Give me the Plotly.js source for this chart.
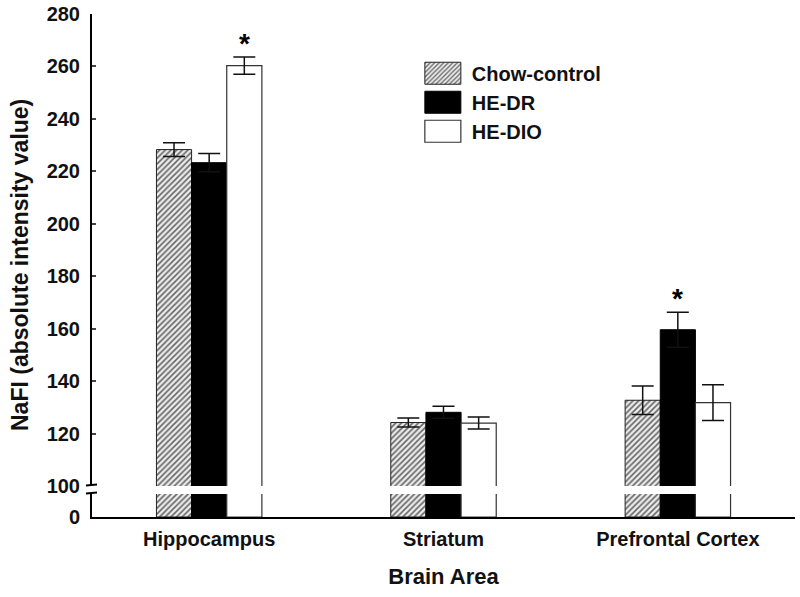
<!DOCTYPE html>
<html>
<head>
<meta charset="utf-8">
<script src="https://cdn.plot.ly/plotly-3.0.1.min.js"></script>
<style>
  html, body { margin: 0; padding: 0; background: #fff; }
  #chart { width: 800px; height: 597px; }
</style>
</head>
<body>
<div id="chart"></div>
<script>
// ---- data ----
const areas = ['Hippocampus', 'Striatum', 'Prefrontal Cortex'];
const seriesNames = ['Chow-control', 'HE-DR', 'HE-DIO'];
const chowVals = [228.3, 124.2, 132.7];
const chowErr  = [2.6, 1.7, 5.4];
const drVals   = [223.3, 128.1, 159.6];
const drErr    = [3.5, 2.3, 6.7];
const dioVals  = [260.3, 124.0, 131.8];
const dioErr   = [3.3, 2.3, 6.8];
const upperTicks = [100, 120, 140, 160, 180, 200, 220, 240, 260, 280];
const lowerTicks = [0];
// significance markers: [area index, series index]
const sigMarks = [[0, 2], [2, 1]];

const FONT = 'Liberation Sans, Arial, sans-serif';
const values = [chowVals, drVals, dioVals];
const errs = [chowErr, drErr, dioErr];
const styles = [
  {color: '#ececec', line: {color: '#222', width: 1},
   pattern: {shape: '/', fgcolor: '#666', bgcolor: '#ececec', size: 4, solidity: 0.4}},
  {color: '#000000', line: {color: '#000', width: 1}},
  {color: '#ffffff', line: {color: '#333', width: 1.2}}
];

const traces = [];
seriesNames.forEach((name, i) => {
  // upper (broken) panel
  traces.push({
    type: 'bar', name: name, x: areas, y: values[i],
    xaxis: 'x', yaxis: 'y2', legendgroup: name, showlegend: true,
    marker: styles[i],
    error_y: {type: 'data', array: errs[i], visible: true, color: '#111', thickness: 1.5, width: 11}
  });
  // lower panel (0 .. break)
  traces.push({
    type: 'bar', name: name, x: areas, y: values[i],
    xaxis: 'x', yaxis: 'y', legendgroup: name, showlegend: false,
    marker: styles[i], hoverinfo: 'skip'
  });
});

const offsets = [-35, 0, 35];
const annotations = sigMarks.map(([a, s]) => ({
  x: areas[a], y: values[s][a] + errs[s][a], xref: 'x', yref: 'y2',
  xshift: offsets[s], yshift: 14, text: '*', showarrow: false,
  font: {family: FONT, size: 28, color: '#000', weight: 'bold'}
}));
annotations.push({
  text: 'NaFI (absolute intensity value)', textangle: -90, showarrow: false,
  xref: 'paper', yref: 'paper', x: -0.1024, y: 0.501, xanchor: 'center', yanchor: 'middle',
  font: {family: FONT, size: 23, color: '#111', weight: 'bold'}
});

const H = 503; // plot height in px
const layout = {
  width: 800, height: 597,
  margin: {l: 92, r: 5, t: 14, b: 80},
  paper_bgcolor: '#fff', plot_bgcolor: '#fff',
  barmode: 'group', bargap: 0.55, bargroupgap: 0,
  showlegend: true,
  legend: {
    x: 0.4692, y: 0.921, xanchor: 'left', yanchor: 'top',
    bgcolor: 'rgba(0,0,0,0)', itemwidth: 40, tracegroupgap: 0,
    font: {family: FONT, size: 20, color: '#111', weight: 'bold'}
  },
  xaxis: {
    anchor: 'y', range: [-0.5, 2.5], showline: true, linecolor: '#000', linewidth: 2,
    ticks: '', showgrid: false, zeroline: false,
    tickfont: {family: FONT, size: 20, color: '#111', weight: 'bold'},
    ticklabelstandoff: 3,
    title: {text: 'Brain Area', standoff: 20, font: {family: FONT, size: 22, color: '#111', weight: 'bold'}}
  },
  yaxis: {
    domain: [0, 23 / H], range: [0, 10], tickvals: lowerTicks, ticktext: lowerTicks.map(String),
    showline: true, linecolor: '#000', linewidth: 2, ticks: 'inside', ticklen: 4, tickwidth: 2,
    showgrid: false, zeroline: false, ticklabelstandoff: 6,
    tickfont: {family: FONT, size: 20, color: '#111', weight: 'bold'}
  },
  yaxis2: {
    domain: [31 / H, 1], range: [100, 280], tickvals: upperTicks, anchor: 'x',
    showline: true, linecolor: '#000', linewidth: 2, ticks: 'inside', ticklen: 4, tickwidth: 2,
    showgrid: false, zeroline: false, ticklabelstandoff: 6,
    tickfont: {family: FONT, size: 20, color: '#111', weight: 'bold'}
  },
  shapes: [
    {type: 'line', xref: 'paper', yref: 'paper', x0: -6 / 703, x1: 5 / 703, y0: 31.5 / H, y1: 32.5 / H, line: {color: '#000', width: 2}},
    {type: 'line', xref: 'paper', yref: 'paper', x0: -6 / 703, x1: 5 / 703, y0: 23.5 / H, y1: 24.5 / H, line: {color: '#000', width: 2}}
  ],
  annotations: annotations
};

Plotly.newPlot('chart', traces, layout, {displayModeBar: false, staticPlot: true}).then(() => {
  // enlarge legend swatches to match the reference's large boxes
  document.querySelectorAll('.legend .legendpoints path').forEach(p => {
    p.setAttribute('d', 'M14,11H-22V-11H14Z');
  });
});
</script>
</body>
</html>
